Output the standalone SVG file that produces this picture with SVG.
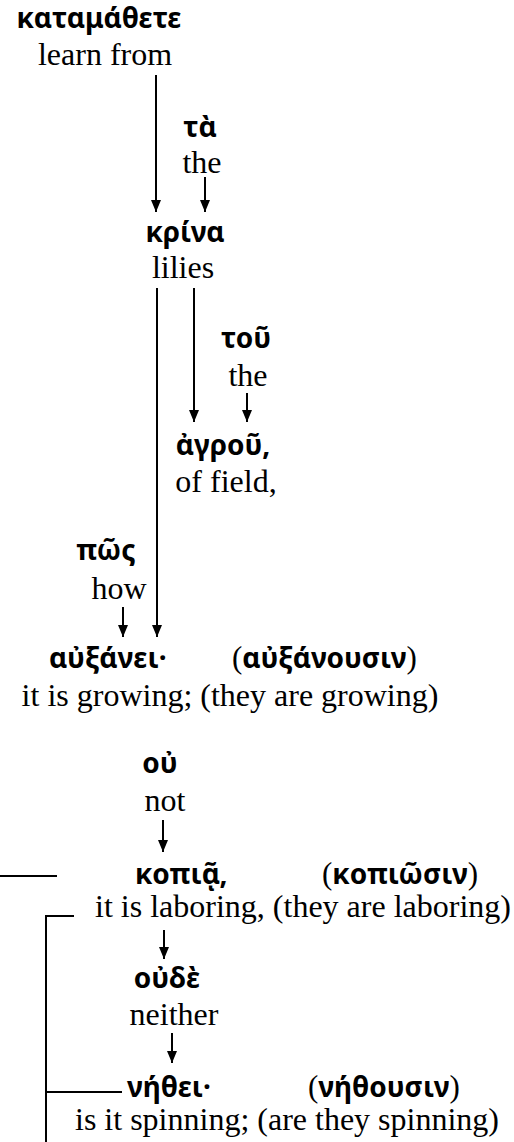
<svg xmlns="http://www.w3.org/2000/svg" width="514" height="1142" viewBox="0 0 514 1142">
<defs>
<marker id="ah" markerUnits="userSpaceOnUse" markerWidth="12" markerHeight="10" refX="12" refY="5" orient="auto" viewBox="0 0 12 10">
<path d="M0,0 L12,5 L0,10 z" fill="#000"/>
</marker>
<style>
.g{font-family:"Noto Sans","DejaVu Sans",sans-serif;font-weight:bold;font-size:28px;fill:#000}
.e{font-family:"Liberation Serif","Times New Roman",serif;font-size:32px;fill:#000}
.p{font-family:"Liberation Serif","Times New Roman",serif;font-weight:normal;font-size:31px}
.a{stroke:#000;stroke-width:2;fill:none;marker-end:url(#ah)}
.l{stroke:#000;stroke-width:2;fill:none}
</style>
</defs>
<rect width="514" height="1142" fill="#fff"/>
<g id="connectors">
<line class="a" x1="156" y1="75" x2="156" y2="212"/>
<line class="a" x1="205" y1="177" x2="205" y2="212"/>
<line class="a" x1="194" y1="288" x2="194" y2="422"/>
<line class="a" x1="247" y1="393" x2="247" y2="422"/>
<line class="a" x1="157" y1="288" x2="157" y2="637"/>
<line class="a" x1="123" y1="607" x2="123" y2="637"/>
<line class="a" x1="163" y1="820" x2="163" y2="852"/>
<line class="a" x1="164" y1="930" x2="164" y2="959"/>
<line class="a" x1="172" y1="1033" x2="172" y2="1063"/>
<line class="l" x1="0" y1="876" x2="57" y2="876"/>
<polyline class="l" points="74,916 46,916 46,1142"/>
<line class="l" x1="46" y1="1092" x2="122" y2="1092"/>
</g>
<g id="n-katamathete">
<text class="g" x="99" y="28" text-anchor="middle">καταμάθετε</text>
<text class="e" x="105" y="65" text-anchor="middle">learn from</text>
</g>
<g id="n-ta">
<text class="g" x="200" y="137" text-anchor="middle">τὰ</text>
<text class="e" x="202" y="173" text-anchor="middle">the</text>
</g>
<g id="n-krina">
<text class="g" x="185" y="242" text-anchor="middle">κρίνα</text>
<text class="e" x="183" y="278" text-anchor="middle">lilies</text>
</g>
<g id="n-tou">
<text class="g" x="246" y="348" text-anchor="middle">τοῦ</text>
<text class="e" x="248" y="386" text-anchor="middle">the</text>
</g>
<g id="n-agrou">
<text class="g" x="223" y="455" text-anchor="middle">ἀγροῦ,</text>
<text class="e" x="226" y="492" text-anchor="middle">of field,</text>
</g>
<g id="n-pos">
<text class="g" x="106" y="560" text-anchor="middle">πῶς</text>
<text class="e" x="119" y="599" text-anchor="middle">how</text>
</g>
<g id="n-auxanei">
<text class="g" x="49" y="668">αὐξάνει·</text>
<text class="g" x="232" y="668"><tspan class="p">(</tspan>αὐξάνουσιν<tspan class="p">)</tspan></text>
<text class="e" x="230" y="706" text-anchor="middle">it is growing; (they are growing)</text>
</g>
<g id="n-ou">
<text class="g" x="160" y="773" text-anchor="middle">οὐ</text>
<text class="e" x="165" y="811" text-anchor="middle">not</text>
</g>
<g id="n-kopia">
<text class="g" x="135" y="884">κοπιᾷ,</text>
<text class="g" x="322" y="884"><tspan class="p">(</tspan>κοπιῶσιν<tspan class="p">)</tspan></text>
<text class="e" x="303" y="917" text-anchor="middle">it is laboring, (they are laboring)</text>
</g>
<g id="n-oude">
<text class="g" x="167" y="988" text-anchor="middle">οὐδὲ</text>
<text class="e" x="174" y="1025" text-anchor="middle">neither</text>
</g>
<g id="n-nethei">
<text class="g" x="127" y="1097">νήθει·</text>
<text class="g" x="308" y="1097"><tspan class="p">(</tspan>νήθουσιν<tspan class="p">)</tspan></text>
<text class="e" x="287" y="1130" text-anchor="middle">is it spinning; (are they spinning)</text>
</g>
</svg>
